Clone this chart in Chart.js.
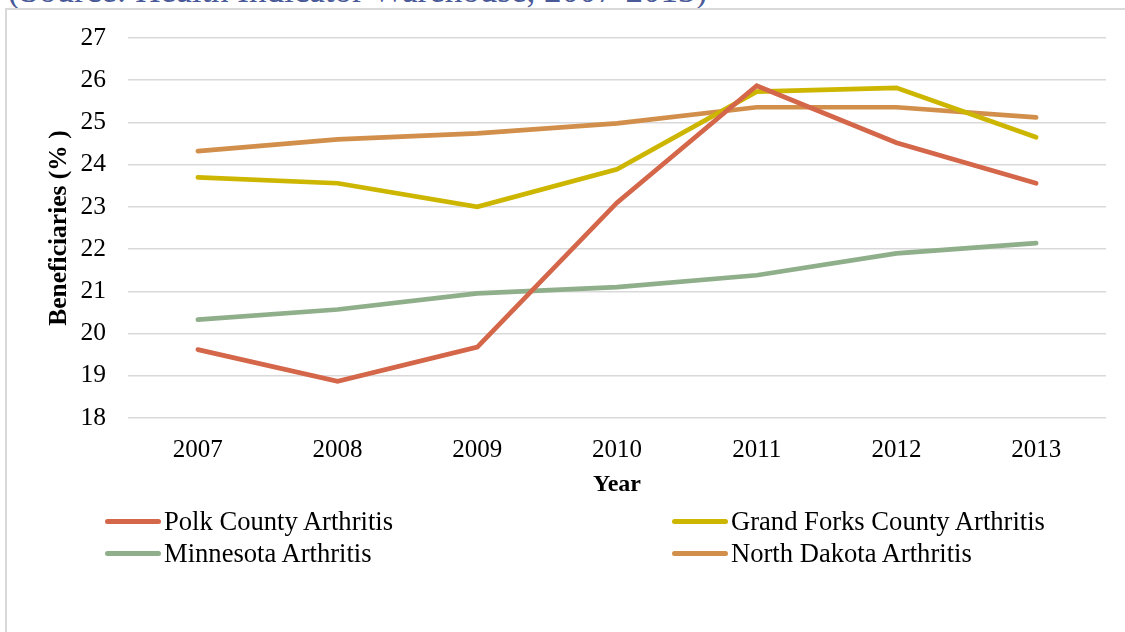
<!DOCTYPE html>
<html>
<head>
<meta charset="utf-8">
<script src="https://cdn.jsdelivr.net/npm/chart.js@4"></script>
<style>
  html, body { margin: 0; padding: 0; background: #fff; overflow: hidden; }
  #wrap { position: relative; width: 1125px; height: 632px; overflow: hidden; }
  #source {
    position: absolute; left: 8px; top: -29px; white-space: nowrap;
    font-family: "Liberation Serif", serif; font-size: 35px; color: #4a5a98;
  }
  #frame {
    position: absolute; left: 5px; top: 8px; width: 1200px; height: 700px;
    border-left: 2px solid #d9d9d9; border-top: 2px solid #d9d9d9;
  }
  #chart { position: absolute; left: 0; top: 0; }
  .leg { position: absolute; font-family: "Liberation Serif", serif; font-size: 26.6px; color: #000; white-space: nowrap; line-height: 30px; }
  .leg i { position: absolute; top: 13px; width: 56px; height: 5px; border-radius: 3px; }
  .leg span { position: absolute; left: 59px; top: 0; }
</style>
</head>
<body>
<div id="wrap">
  <div id="source">(Source: Health Indicator Warehouse, 2007-2013)</div>
  <div id="frame"></div>
  <canvas id="chart" width="1125" height="632"></canvas>
  <div id="legend"></div>
</div>
<script>
(() => {
    'use strict';

    // data
    const years = ['2007', '2008', '2009', '2010', '2011', '2012', '2013'];
    const polkCounty = [19.62, 18.87, 19.68, 23.1, 25.87, 24.52, 23.56];
    const grandForksCounty = [23.7, 23.56, 23.0, 23.89, 25.73, 25.82, 24.65];
    const minnesota = [20.33, 20.57, 20.95, 21.1, 21.38, 21.9, 22.14];
    const northDakota = [24.32, 24.6, 24.74, 24.98, 25.36, 25.36, 25.12];
    const seriesNames = ['Polk County Arthritis', 'Grand Forks County Arthritis', 'Minnesota Arthritis', 'North Dakota Arthritis'];
    const seriesColors = ['#d4664a', '#cdb600', '#8faf8b', '#d18f4b'];

    const serif = '"Liberation Serif", "Times New Roman", serif';
    const allValues = [polkCounty, grandForksCounty, minnesota, northDakota];

    const datasets = allValues.map((vals, i) => ({
        label: seriesNames[i],
        data: vals,
        borderColor: seriesColors[i],
        backgroundColor: seriesColors[i],
        borderWidth: 4.7,
        borderCapStyle: 'round',
        borderJoinStyle: 'miter',
        pointRadius: 0,
        tension: 0,
        fill: false
    }));

    new Chart(document.getElementById('chart'), {
        type: 'line',
        data: { labels: years, datasets: datasets },
        options: {
            responsive: false,
            animation: false,
            layout: { padding: { left: 35, right: 19, top: 38, bottom: 124 } },
            scales: {
                x: {
                    offset: true,
                    grid: { display: false, drawTicks: false },
                    border: { display: false },
                    ticks: { color: '#000', padding: 17, font: { family: serif, size: 25 } },
                    title: { display: true, text: 'Year', color: '#000', padding: { top: 0, bottom: 9 }, font: { family: serif, size: 24, weight: 'bold' } },
                    afterFit: (scale) => { scale.height = 90; }
                },
                y: {
                    min: 18,
                    max: 27,
                    grid: { color: '#d9d9d9', lineWidth: 1.5, drawTicks: false },
                    border: { display: false },
                    ticks: { stepSize: 1, color: '#000', padding: 22, font: { family: serif, size: 25.5 } },
                    title: { display: true, text: 'Beneficiaries (% )', color: '#000', padding: { top: 9, bottom: 0 }, font: { family: serif, size: 25.5, weight: 'bold' } },
                    afterFit: (scale) => { scale.width = 93; }
                }
            },
            plugins: {
                legend: { display: false },
                tooltip: { enabled: false }
            }
        }
    });

    // legend in two columns, like the original
    const legendBox = document.getElementById('legend');
    const legendPos = [[105, 506], [672, 506], [105, 538], [672, 538]];
    seriesNames.forEach((name, i) => {
        const item = document.createElement('div');
        item.className = 'leg';
        item.style.left = legendPos[i][0] + 'px';
        item.style.top = legendPos[i][1] + 'px';
        const swatch = document.createElement('i');
        swatch.style.background = seriesColors[i];
        const label = document.createElement('span');
        label.textContent = name;
        item.appendChild(swatch);
        item.appendChild(label);
        legendBox.appendChild(item);
    });
})();
</script>
</body>
</html>
